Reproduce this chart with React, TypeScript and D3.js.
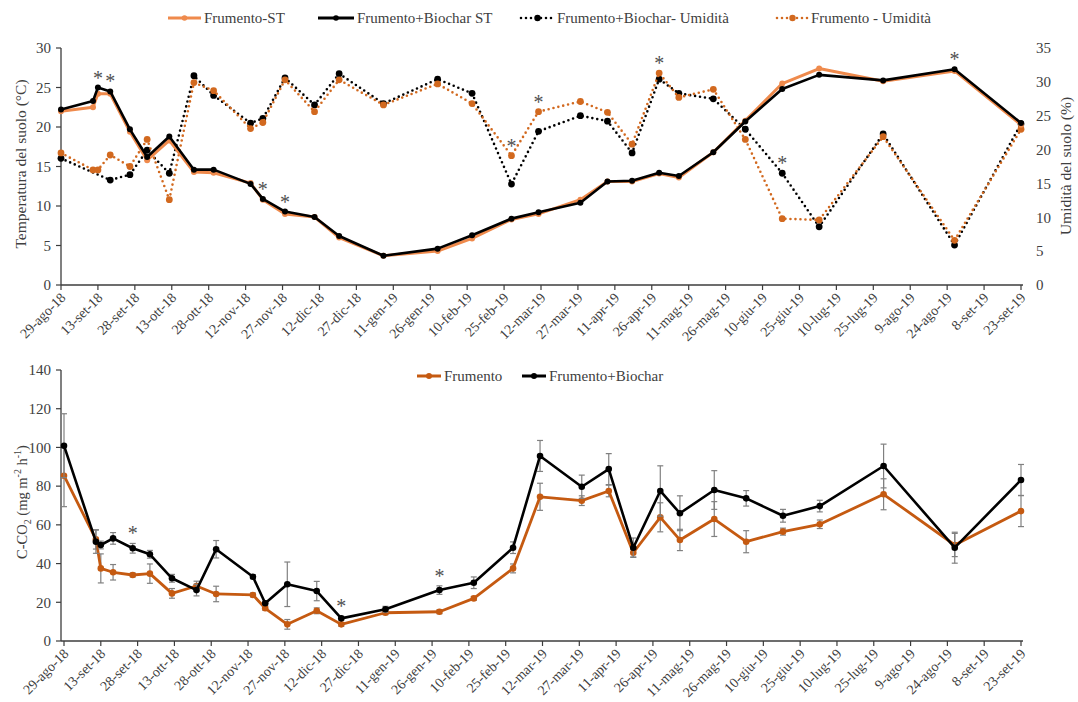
import React from 'react';
import * as d3 from 'd3';

// Sampling dates shared by both panels
const sampleDates = [
  '2018-08-29', '2018-09-11', '2018-09-13', '2018-09-18', '2018-09-26', '2018-10-03',
  '2018-10-12', '2018-10-22', '2018-10-30', '2018-11-14', '2018-11-19', '2018-11-28',
  '2018-12-10', '2018-12-20', '2019-01-07', '2019-01-29', '2019-02-12', '2019-02-28',
  '2019-03-11', '2019-03-28', '2019-04-08', '2019-04-18', '2019-04-29', '2019-05-07',
  '2019-05-21', '2019-06-03', '2019-06-18', '2019-07-03', '2019-07-29', '2019-08-27',
  '2019-09-23',
];

// Soil temperature (°C)
const tempWheat = [
  22.0, 22.5, 24.2, 24.2, 19.4, 15.8, 18.3, 14.3, 14.2, 12.9, 10.8, 9.0, 8.6, 6.0, 3.7,
  4.3, 5.9, 8.3, 9.0, 10.8, 13.1, 13.1, 14.1, 13.6, 16.8, 20.8, 25.5, 27.4, 25.8, 27.1, 20.3,
];
const tempBiochar = [
  22.2, 23.3, 25.0, 24.5, 19.7, 16.2, 18.8, 14.6, 14.6, 12.8, 10.9, 9.3, 8.6, 6.2, 3.7,
  4.6, 6.3, 8.4, 9.2, 10.4, 13.1, 13.2, 14.2, 13.8, 16.8, 20.7, 24.8, 26.6, 25.9, 27.3, 20.5,
];

// Soil moisture (%)
const moistBiochar: (number | null)[] = [
  18.7, null, null, 15.5, 16.3, 19.9, 16.5, 30.9, 28.0, 23.9, 24.6, 30.6, 26.6, 31.2, 26.8,
  30.4, 28.3, 14.9, 22.7, 25.0, 24.2, 19.5, 30.4, 28.3, 27.5, 23.0, 16.5, 8.6, 22.3, 5.9, 23.8,
];
const moistWheat = [
  19.5, 17.0, 17.0, 19.2, 17.5, 21.5, 12.6, 29.9, 28.7, 23.1, 24.0, 30.3, 25.6, 30.3, 26.6,
  29.7, 26.8, 19.1, 25.6, 27.1, 25.5, 20.8, 31.3, 27.7, 28.9, 21.5, 9.8, 9.6, 21.9, 6.6, 23.0,
];

// Soil respiration C-CO2 (mg m-2 h-1) with standard errors
const co2Wheat = [
  85.4, 52.5, 37.5, 35.5, 34.1, 34.8, 24.6, 28.4, 24.3, 23.8, 16.9, 8.6, 15.6, 8.6, 14.6,
  15.1, 22.0, 37.5, 74.5, 72.5, 77.5, 45.6, 63.9, 52.2, 63.0, 51.3, 56.5, 60.3, 75.8, 49.6, 67.1,
];
const co2WheatErr = [
  16, 5, 7.5, 4, 1, 5, 2.5, 2.5, 4, 1, 1, 2.5, 1.5, 1, 1,
  1, 1, 2.3, 7, 2.5, 3, 2.2, 7.5, 5.5, 9, 5.7, 1.8, 2.2, 8, 6, 8,
];
const co2Biochar = [
  100.9, 51.3, 49.6, 53.0, 47.9, 44.8, 32.4, 26.3, 47.4, 33.2, 19.5, 29.3, 25.8, 11.7, 16.4,
  26.3, 30.1, 48.2, 95.6, 79.7, 88.8, 48.2, 77.5, 66.0, 78.0, 73.7, 64.7, 69.7, 90.4, 48.2, 83.2,
];
const co2BiocharErr = [
  16.5, 6, 2, 3, 2.5, 2, 2, 3, 4.5, 1, 1, 11.5, 5, 1, 1.5,
  2.2, 3, 3, 8, 6, 8, 5, 13, 9, 10, 4, 3.3, 3, 11.3, 8, 8,
];

// Significant differences (indices into sampleDates)
const starsTemp = [2, 3, 10, 11, 29];
const starsMoist = [17, 18, 22, 26];
const starsCO2 = [4, 13, 15];

// Axis ticks
const dateTickLabels = [
  '29-ago-18', '13-set-18', '28-set-18', '13-ott-18', '28-ott-18', '12-nov-18', '27-nov-18',
  '12-dic-18', '27-dic-18', '11-gen-19', '26-gen-19', '10-feb-19', '25-feb-19', '12-mar-19',
  '27-mar-19', '11-apr-19', '26-apr-19', '11-mag-19', '26-mag-19', '10-giu-19', '25-giu-19',
  '10-lug-19', '25-lug-19', '9-ago-19', '24-ago-19', '8-set-19', '23-set-19',
];
const tempTicks = [0, 5, 10, 15, 20, 25, 30];
const moistTicks = [0, 5, 10, 15, 20, 25, 30, 35];
const co2Ticks = [0, 20, 40, 60, 80, 100, 120, 140];

const FONT = "'Liberation Serif', 'DejaVu Serif', serif";
const TEXT = '#404040';
const AXIS = '#3c3c3c';
const ORANGE_ST = '#EF8A4C';
const ORANGE_UM = '#D2691F';
const ORANGE_CO2 = '#C55A11';
const ERR = '#808080';

const parse = d3.timeParse('%Y-%m-%d');
const dates = sampleDates.map((s) => parse(s) as Date);
const start = parse('2018-08-29') as Date;
const end = parse('2019-09-23') as Date;
const tickDates = dateTickLabels.map((_, i) => d3.timeDay.offset(start, 15 * i));

// Scales
const xTop = d3.scaleTime().domain([start, end]).range([61, 1021]);
const yTemp = d3.scaleLinear().domain([0, 30]).range([285, 48]);
const yMoist = d3.scaleLinear().domain([0, 35]).range([285, 48]);
const xBot = d3.scaleTime().domain([start, end]).range([64, 1021]);
const yCO2 = d3.scaleLinear().domain([0, 140]).range([641, 370]);

type Pt = [Date, number];
const pts = (vals: (number | null)[]): Pt[] =>
  vals.map((v, i) => [dates[i], v] as [Date, number | null]).filter((p) => p[1] != null) as Pt[];

function linePath(x: d3.ScaleTime<number, number>, y: d3.ScaleLinear<number, number>, data: Pt[]) {
  return d3.line<Pt>().x((d) => x(d[0])).y((d) => y(d[1]))(data) || '';
}

const txt = { fontFamily: FONT, fill: TEXT } as const;

function XAxis({ x, y0, x0 }: { x: d3.ScaleTime<number, number>; y0: number; x0: number }) {
  const x1 = x(end) + 2;
  return (
    <g>
      <line x1={x0} x2={x1} y1={y0} y2={y0} stroke={AXIS} strokeWidth={1.3} />
      {tickDates.map((d, i) => {
        const tx = x(d);
        return (
          <g key={i}>
            <line x1={tx} x2={tx} y1={y0} y2={y0 + 5} stroke={AXIS} strokeWidth={1.2} />
            <text
              transform={`translate(${tx + 2},${y0 + 10}) rotate(-45)`}
              textAnchor="end"
              dy="0.35em"
              fontSize={14}
              style={txt}
            >
              {dateTickLabels[i]}
            </text>
          </g>
        );
      })}
    </g>
  );
}

function YAxisLeft({ y, ticks, x0 }: { y: d3.ScaleLinear<number, number>; ticks: number[]; x0: number }) {
  const [r0, r1] = y.range();
  return (
    <g>
      <line x1={x0} x2={x0} y1={r0} y2={r1} stroke={AXIS} strokeWidth={1.3} />
      {ticks.map((t) => (
        <g key={t}>
          <line x1={x0 - 5} x2={x0} y1={y(t)} y2={y(t)} stroke={AXIS} strokeWidth={1.2} />
          <text x={x0 - 10} y={y(t)} dy="0.35em" textAnchor="end" fontSize={15} style={txt}>
            {t}
          </text>
        </g>
      ))}
    </g>
  );
}

function YAxisRight({ y, ticks, x0 }: { y: d3.ScaleLinear<number, number>; ticks: number[]; x0: number }) {
  return (
    <g>
      {ticks.map((t) => (
        <text key={t} x={x0} y={y(t)} dy="0.35em" textAnchor="start" fontSize={15} style={txt}>
          {t}
        </text>
      ))}
    </g>
  );
}

function Markers({ x, y, data, r, fill }: { x: any; y: any; data: Pt[]; r: number; fill: string }) {
  return (
    <g>
      {data.map((d, i) => (
        <circle key={i} cx={x(d[0])} cy={y(d[1])} r={r} fill={fill} />
      ))}
    </g>
  );
}

function ErrorBars({ x, y, vals, errs }: { x: any; y: any; vals: number[]; errs: number[] }) {
  return (
    <g stroke={ERR} strokeWidth={1.2}>
      {vals.map((v, i) => {
        const cx = x(dates[i]);
        const yt = y(v + errs[i]);
        const yb = y(v - errs[i]);
        return (
          <g key={i}>
            <line x1={cx} x2={cx} y1={yt} y2={yb} />
            <line x1={cx - 3} x2={cx + 3} y1={yt} y2={yt} />
            <line x1={cx - 3} x2={cx + 3} y1={yb} y2={yb} />
          </g>
        );
      })}
    </g>
  );
}

function Star({ cx, top }: { cx: number; top: number }) {
  return (
    <text x={cx} y={top - 3} textAnchor="middle" fontSize={20} style={{ fontFamily: FONT, fill: '#505050' }}>
      *
    </text>
  );
}

function LegendItem({
  x, y, w, color, dotted, label, r,
}: { x: number; y: number; w: number; color: string; dotted?: boolean; label: string; r: number }) {
  return (
    <g>
      <line
        x1={x}
        x2={x + w}
        y1={y}
        y2={y}
        stroke={color}
        strokeWidth={dotted ? 2.6 : 3}
        strokeDasharray={dotted ? '0 5' : undefined}
        strokeLinecap={dotted ? 'round' : 'butt'}
      />
      <circle cx={x + w / 2} cy={y} r={r} fill={color} />
      <text x={x + w + 3} y={y} dy="0.35em" fontSize={15} style={txt}>
        {label}
      </text>
    </g>
  );
}

export default function App() {
  const tW = pts(tempWheat);
  const tB = pts(tempBiochar);
  const mB = pts(moistBiochar);
  const mW = pts(moistWheat);
  const cW = pts(co2Wheat);
  const cB = pts(co2Biochar);

  return (
    <svg
      width={1078}
      height={702}
      style={{ position: 'absolute', left: 0, top: 0, background: '#fff', fontFamily: FONT }}
    >
      <rect width={1078} height={702} fill="#fff" />

      {/* ---------- Top panel: soil temperature and moisture ---------- */}
      <g>
        <LegendItem x={168} y={18} w={33} color={ORANGE_ST} label="Frumento-ST" r={2.8} />
        <LegendItem x={318} y={18} w={36} color="#000" label="Frumento+Biochar ST" r={2.8} />
        <LegendItem x={521} y={18} w={33} color="#000" dotted label="Frumento+Biochar- Umidità" r={3.2} />
        <LegendItem x={777} y={18} w={31} color={ORANGE_UM} dotted label="Frumento - Umidità" r={3.2} />

        <YAxisLeft y={yTemp} ticks={tempTicks} x0={61} />
        <YAxisRight y={yMoist} ticks={moistTicks} x0={1036} />
        <XAxis x={xTop} y0={285} x0={61} />

        <text transform="translate(26,164) rotate(-90)" textAnchor="middle" fontSize={15.5} style={txt}>
          Temperatura del suolo (°C)
        </text>
        <text transform="translate(1071,166) rotate(-90)" textAnchor="middle" fontSize={15.5} style={txt}>
          Umidità del suolo (%)
        </text>

        {/* moisture (right axis) */}
        <path d={linePath(xTop, yMoist, mB)} fill="none" stroke="#000" strokeWidth={2.6} strokeDasharray="0 5" strokeLinecap="round" />
        <Markers x={xTop} y={yMoist} data={mB} r={3.4} fill="#000" />
        <path d={linePath(xTop, yMoist, mW)} fill="none" stroke={ORANGE_UM} strokeWidth={2.6} strokeDasharray="0 5" strokeLinecap="round" />
        <Markers x={xTop} y={yMoist} data={mW} r={3.4} fill={ORANGE_UM} />

        {/* temperature (left axis) */}
        <path d={linePath(xTop, yTemp, tW)} fill="none" stroke={ORANGE_ST} strokeWidth={3} strokeLinejoin="round" />
        <Markers x={xTop} y={yTemp} data={tW} r={3} fill={ORANGE_ST} />
        <path d={linePath(xTop, yTemp, tB)} fill="none" stroke="#000" strokeWidth={2.6} strokeLinejoin="round" />
        <Markers x={xTop} y={yTemp} data={tB} r={3} fill="#000" />

        {starsTemp.map((i) => (
          <Star key={'t' + i} cx={xTop(dates[i])} top={Math.min(yTemp(tempWheat[i]), yTemp(tempBiochar[i]))} />
        ))}
        {starsMoist.map((i) => (
          <Star
            key={'m' + i}
            cx={xTop(dates[i])}
            top={Math.min(yMoist(moistWheat[i]), yMoist(moistBiochar[i] ?? 0))}
          />
        ))}
      </g>

      {/* ---------- Bottom panel: soil respiration ---------- */}
      <g>
        <LegendItem x={417} y={376} w={24} color={ORANGE_CO2} label="Frumento" r={3} />
        <LegendItem x={522} y={376} w={24} color="#000" label="Frumento+Biochar" r={3} />

        <YAxisLeft y={yCO2} ticks={co2Ticks} x0={61} />
        <XAxis x={xBot} y0={641} x0={61} />

        <text transform="translate(27,502) rotate(-90)" textAnchor="middle" fontSize={14.5} style={txt}>
          C-CO
          <tspan fontSize={10} dy={4}>2</tspan>
          <tspan dy={-4}> (mg m</tspan>
          <tspan fontSize={10} dy={-6}>-2</tspan>
          <tspan dy={6}> h</tspan>
          <tspan fontSize={10} dy={-6}>-1</tspan>
          <tspan dy={6}>)</tspan>
        </text>

        <ErrorBars x={xBot} y={yCO2} vals={co2Wheat} errs={co2WheatErr} />
        <path d={linePath(xBot, yCO2, cW)} fill="none" stroke={ORANGE_CO2} strokeWidth={2.8} strokeLinejoin="round" />
        <Markers x={xBot} y={yCO2} data={cW} r={3.3} fill={ORANGE_CO2} />

        <ErrorBars x={xBot} y={yCO2} vals={co2Biochar} errs={co2BiocharErr} />
        <path d={linePath(xBot, yCO2, cB)} fill="none" stroke="#000" strokeWidth={2.6} strokeLinejoin="round" />
        <Markers x={xBot} y={yCO2} data={cB} r={3.3} fill="#000" />

        {starsCO2.map((i) => (
          <Star
            key={'c' + i}
            cx={xBot(dates[i])}
            top={Math.min(yCO2(co2Wheat[i] + co2WheatErr[i]), yCO2(co2Biochar[i] + co2BiocharErr[i]))}
          />
        ))}
      </g>
    </svg>
  );
}
